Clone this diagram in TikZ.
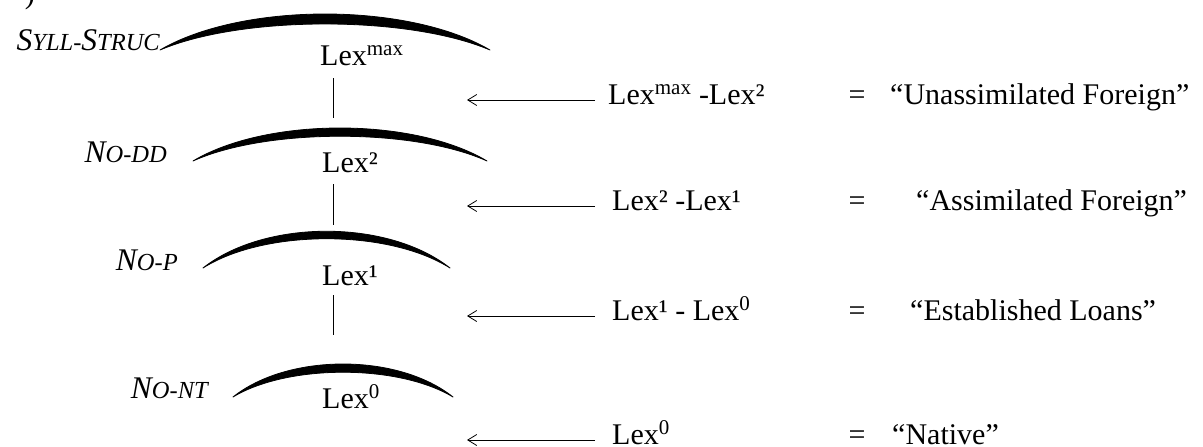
\documentclass[tikz,border=0pt]{standalone}
\usepackage{fontspec}
\setmainfont{Liberation Serif}
\usetikzlibrary{arrows.meta}
\newcommand\bigsz{\fontsize{30}{36}\selectfont}
\newcommand\lblA{\fontsize{31.5}{36}\selectfont}
\newcommand\lblB{\fontsize{24.5}{28}\selectfont}
\begin{document}
\begin{tikzpicture}[x=1pt,y=-1pt,
  txt/.style={inner sep=0pt, font=\bigsz},
  lbl/.style={inner sep=0pt, font=\itshape},
  vline/.style={line width=1pt},
  arr/.style={line width=1pt, -{Straight Barb[length=9pt,width=11pt,line width=0.8pt]}},
  crescent/.style={fill=black, draw=black, line width=0.8pt, line join=round}]
\useasboundingbox (0,0) rectangle (1203,447);
% partial label at the very top
\node[txt, anchor=base east] (corner) at (35,3) {)};
% arcs
\path[crescent] (160,50) .. controls (242,2) and (408,2) .. (490,50)
   .. controls (408,15.3) and (242,15.3) .. (160,50) -- cycle;
\path[crescent] (193,161) .. controls (266.5,117) and (413.5,117) .. (487,161)
   .. controls (413.5,128) and (266.5,128) .. (193,161) -- cycle;
\path[crescent] (203,268) .. controls (265,219) and (388,219) .. (450,268)
   .. controls (388,229) and (265,229) .. (203,268) -- cycle;
\path[crescent] (233,397) .. controls (288,353) and (398,353) .. (453,397)
   .. controls (398,364) and (288,364) .. (233,397) -- cycle;
% constraint labels
\node[lbl, anchor=base east] (c1) at (160,50) {\lblA S\lblB YLL-\lblA S\lblB TRUC};
\node[lbl, anchor=base east] (c2) at (167,162) {\lblA N\lblB O-DD};
\node[lbl, anchor=base east] (c3) at (178,270) {\lblA N\lblB O-P};
\node[lbl, anchor=base east] (c4) at (208,398) {\lblA N\lblB O-NT};
% lexicon levels
\node[txt, anchor=base west] (lmax) at (320,65) {Lex\textsuperscript{max}};
\node[txt, anchor=base west] (l2) at (322,172) {Lex²};
\node[txt, anchor=base west] (l1) at (322,285) {Lex¹};
\node[txt, anchor=base west] (l0) at (322,408) {Lex\textsuperscript{0}};
% vertical connectors
\coordinate (v1a) at (333,78);  \coordinate (v1b) at (333,118);
\coordinate (v2a) at (333,184); \coordinate (v2b) at (333,225);
\coordinate (v3a) at (333,295); \coordinate (v3b) at (333,335);
\draw[vline] (v1a) -- (v1b);
\draw[vline] (v2a) -- (v2b);
\draw[vline] (v3a) -- (v3b);
% right-hand rows
\node[txt, anchor=base west] (r1) at (608,104) {Lex\textsuperscript{max} -Lex²};
\node[txt, anchor=base west] (r2) at (612,210) {Lex² -Lex¹};
\node[txt, anchor=base west] (r3) at (612,320) {Lex¹ - Lex\textsuperscript{0}};
\node[txt, anchor=base west] (r4) at (612,444) {Lex\textsuperscript{0}};
\node[txt, anchor=base] (e1) at (857,104) {=};
\node[txt, anchor=base] (e2) at (857,210) {=};
\node[txt, anchor=base] (e3) at (857,320) {=};
\node[txt, anchor=base] (e4) at (857,444) {=};
\node[txt, anchor=base west] (q1) at (890,104) {“Unassimilated Foreign”};
\node[txt, anchor=base west] (q2) at (916,210) {“Assimilated Foreign”};
\node[txt, anchor=base west] (q3) at (910,320) {“Established Loans”};
\node[txt, anchor=base west] (q4) at (892,444) {“Native”};
% arrows
\coordinate (a1s) at (595,100); \coordinate (a1e) at (467,100);
\coordinate (a2s) at (595,206); \coordinate (a2e) at (467,206);
\coordinate (a3s) at (595,316); \coordinate (a3e) at (467,316);
\coordinate (a4s) at (595,440); \coordinate (a4e) at (467,440);
\draw[arr] (a1s) -- (a1e);
\draw[arr] (a2s) -- (a2e);
\draw[arr] (a3s) -- (a3e);
\draw[arr] (a4s) -- (a4e);
\end{tikzpicture}
\end{document}
